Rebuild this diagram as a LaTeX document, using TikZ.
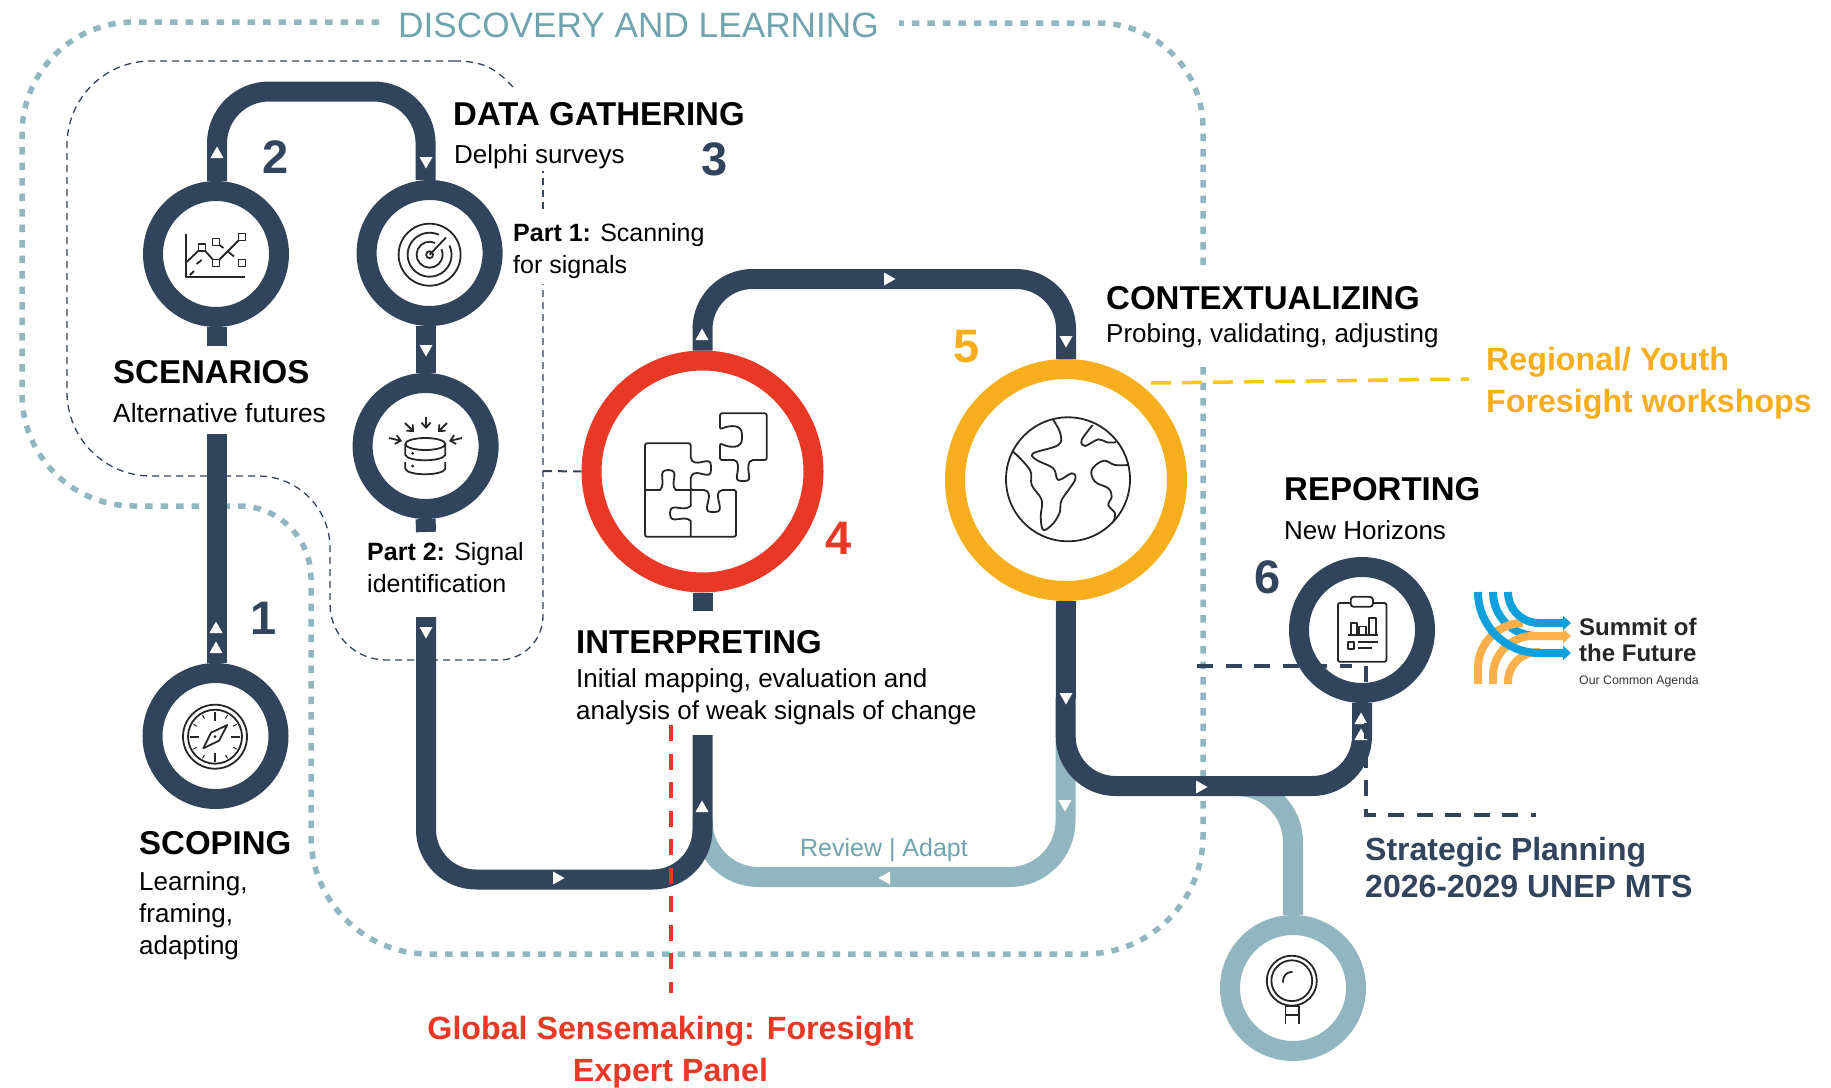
\documentclass[tikz,border=0pt]{standalone}
\usepackage{fontspec}
\usepackage{xcolor}
\setmainfont{Liberation Sans}
\usetikzlibrary{arrows.meta}
\definecolor{navy}{HTML}{32445C}
\definecolor{mist}{HTML}{92B6C0}
\definecolor{mistdark}{HTML}{6FA3AE}
\definecolor{flame}{HTML}{E93825}
\definecolor{amber}{HTML}{F7AE1D}
\definecolor{amberlight}{HTML}{FBB04C}
\definecolor{sky}{HTML}{0EA0DD}
\tikzset{
  ring/.style={circle, draw=navy, line width=20pt, minimum size=126pt, inner sep=0pt},
  bigring/.style={ring, minimum size=222pt},
  pipe/.style={draw=navy, line width=20pt},
  softpipe/.style={draw=mist, line width=20pt},
  looppath/.style={draw=mist, line width=5.5pt, dash pattern=on 7.5pt off 8pt},
  thinpath/.style={draw=navy, line width=1.3pt, dash pattern=on 7pt off 5pt},
  heavypath/.style={line width=4pt, dash pattern=on 16pt off 12.5pt},
  icon/.style={draw=black!85, line width=1.8pt, line join=round},
  heading/.style={font=\fontsize{33}{38}\selectfont\bfseries, anchor=base west, inner sep=0pt},
  note/.style={font=\fontsize{26}{32}\selectfont, anchor=base west, inner sep=0pt},
  notes/.style={font=\fontsize{26}{32}\selectfont, anchor=north west, inner sep=0pt, align=left},
  partnote/.style={notes, font=\fontsize{25}{32}\selectfont},
  stepnum/.style={font=\fontsize{47}{50}\selectfont\bfseries, anchor=base, inner sep=0pt},
  callout/.style={font=\fontsize{32.2}{42}\selectfont\bfseries, inner sep=0pt},
  pipetip/.pic={\fill[white] (-6.5,5) -- (6.5,5) -- (0,-6.5) -- cycle;},
  logoline/.style={line width=8pt, rounded corners=#1},
}
\begin{document}
\begin{tikzpicture}[x=1pt,y=-1pt]
  \useasboundingbox (0,0) rectangle (1831,1087);

  \coordinate (loopstart) at (379,22);
  \coordinate (loopend) at (1203,367);
  \coordinate (loopback) at (1203,265);
  \coordinate (looptop) at (899,23);
  \coordinate (thinbreak) at (543,284);
  \coordinate (thinmid) at (543,209);
  \coordinate (thinupper) at (543,171);
  \coordinate (thinend) at (513,87);
  \coordinate (thincurve) at (455,61);
  \coordinate (thinfork) at (543,471);

  \draw[looppath, rounded corners=112pt] (loopstart) -- (22,22) -- (22,506)
    [rounded corners=72pt] -- (311,506) [rounded corners=118pt] -- (311,954) -- (1203,954) -- (loopend);
  \draw[looppath, rounded corners=105pt] (loopback) -- (1203,23) -- (looptop);
  \draw[thinpath] (thinend) .. controls (497,70) and (485,61) .. (thincurve);
  \draw[thinpath, rounded corners=84pt] (thincurve) -- (67,61) -- (67,476)
    [rounded corners=72pt] -- (330,476) [rounded corners=56pt] -- (330,660) [rounded corners=44pt] -- (543,660) -- (thinbreak);
  \draw[thinpath] (thinmid) -- (thinupper);

  \node[ring] (scoping) at (215.5,736) {};
  \node[ring] (scenarios) at (216,254) {};
  \node[ring] (scanning) at (429.6,253) {};
  \node[ring] (signal) at (425.6,446) {};
  \node[bigring, draw=flame] (interpreting) at (702.5,471.5) {};
  \node[bigring, draw=amber] (context) at (1066,480) {};
  \node[ring] (report) at (1362,630) {};
  \node[ring, draw=mist] (lens) at (1293,988) {};

  \coordinate (scopingend) at (217,434);
  \coordinate (scenariosend) at (217,346);
  \coordinate (topbend) at (217,91.5);
  \coordinate (signalend) at (426,532);
  \coordinate (signalstart) at (426,617);
  \coordinate (valley) at (702.5,879.5);
  \coordinate (interpend) at (702.5,735);
  \coordinate (interpstub) at (702.5,611);
  \coordinate (arch) at (702,279);
  \coordinate (lowbend) at (1065.5,786);
  \coordinate (reportbend) at (1362,786);
  \coordinate (softstart) at (1065.5,740);
  \coordinate (softvalley) at (702.5,877);
  \coordinate (softend) at (702.5,820);
  \coordinate (branchstart) at (1236,786);

  \draw[softpipe, rounded corners=56pt] (softstart) |- (softvalley) -- (softend);
  \draw[softpipe, rounded corners=56pt] (branchstart) -| (lens.north);

  \draw[pipe] (scoping.north -| scopingend) -- (scopingend);
  \draw[pipe] (scenarios.south -| scenariosend) -- (scenariosend);
  \draw[pipe, rounded corners=52pt] (scenarios.north -| topbend) -- (topbend) -- (signal |- topbend) -- (signal |- scanning.north);
  \draw[pipe] (signal |- scanning.south) -- (signal.north);
  \draw[pipe] (signal.south) -- (signalend);
  \draw[pipe, rounded corners=50pt] (signalstart) |- (valley) -- (interpend);
  \draw[pipe] (interpreting.south) -- (interpstub);
  \draw[pipe, rounded corners=50pt] (interpreting.north) |- (arch -| context) -- (context.north);
  \draw[pipe, rounded corners=50pt] (context.south) -- (lowbend) -- (reportbend) -- (report.south);

  \foreach \x/\y/\a in {217/153/0, 426/162/180, 426/350/180, 426/632/180, 216/628/0, 216/648/0,
      558/878/-90, 702/807/0, 702/335/0, 889/279/-90, 1066/341/180, 1066/698/180,
      1065/805/180, 885/878/90, 1201/787/-90, 1361/719/0, 1361/735/0}
    \pic[rotate=\a] at (\x,\y) {pipetip};

  \coordinate (dashleft) at (1197,666);
  \coordinate (dashfork) at (1352,666);
  \coordinate (dashdown) at (1366,666);
  \coordinate (dashright) at (1536,815);
  \draw[heavypath, navy] (dashleft) -- (dashfork);
  \draw[heavypath, navy] (dashdown) |- (dashright);
  \draw[navy, line width=2pt, dash pattern=on 9pt off 6pt] (thinfork) -- (interpreting.west);
  \coordinate (yellowstart) at (1151,383);
  \coordinate (yellowend) at (1469,379);
  \draw[heavypath, draw=amber!70!yellow, line width=3.5pt, dash pattern=on 20pt off 11pt] (yellowstart) -- (yellowend);
  \coordinate (redstart) at (670.5,725);
  \coordinate (redend) at (670.5,993);
  \draw[heavypath, flame] (redstart) -- (redend);

  % icons
  \draw[icon] (186,234) -- (186,277) -- (245,277);
  \draw[icon] (186,262.5) -- (202,247.5) -- (216,263) -- (242,237);
  \foreach \x/\y in {202/247.5, 216/242, 242/237, 216/263, 242/263}
    \draw[icon, fill=white] (\x-3.5,\y-3.5) rectangle (\x+3.5,\y+3.5);
  \draw[icon] (196.5,264) -- (201.7,260) (190,275) -- (194,271) (219.5,245) -- (223.5,248) (228.5,252) -- (234,256.5);

  \draw[icon] (429.6,254.7) circle[radius=31];
  \draw[icon] ([shift={(-65:22)}]429.6,254.7) arc[start angle=-65, end angle=-385, radius=22];
  \draw[icon] ([shift={(-65:13)}]429.6,254.7) arc[start angle=-65, end angle=-385, radius=13];
  \draw[icon] (429.6,254.7) circle[radius=3.5] -- (446,237.5);

  \draw[icon] (425.3,444) ellipse[x radius=20, y radius=6];
  \draw[icon] (405.3,444) -- (405.3,455) .. controls (408,462) and (442,462) .. (445.3,455) -- (445.3,444);
  \draw[icon] (405.3,462) -- (405.3,469) .. controls (408,476) and (442,476) .. (445.3,469) -- (445.3,462);
  \fill[black!85] (412.7,453.3) circle[radius=1.6] (412.7,466) circle[radius=1.6];
  \foreach \x/\y/\u/\v in {426/417/426/429, 405/423/414/432, 447/423/438/432, 389/438/402/441, 462/438/449/441}
    \draw[icon, -{Straight Barb[length=5pt,width=9pt]}] (\x,\y) -- (\u,\v);

  \draw[icon, rounded corners=2pt] (720,413.3) -- (766.7,413.3) -- (766.7,460) -- (750.7,460)
    .. controls (745,470) and (754,481) .. (743,481) .. controls (732,481) and (741,470) .. (736,460)
    -- (720,460) -- (720,443.3) .. controls (730,448) and (742,449) .. (742,436.5)
    .. controls (742,424) and (730,425) .. (720,429.3) -- cycle;
  \draw[icon, rounded corners=2pt] (645,443.3) -- (690.7,443.3) -- (690.7,459.3)
    .. controls (698,467) and (711,455) .. (711,468) .. controls (711,481) and (698,469) .. (690.7,476)
    -- (690.7,490) -- (706,490) .. controls (713,497) and (701,512) .. (713.3,512)
    .. controls (726,512) and (714,497) .. (720.7,490) -- (736,490) -- (736,536.7) -- (645,536.7) -- cycle;
  \draw[icon] (645,490) -- (660,490) .. controls (667,483) and (656,470) .. (668.3,470)
    .. controls (681,470) and (669,483) .. (675.7,490) -- (690.7,490) -- (690.7,506)
    .. controls (683,513) and (670,501) .. (670,513.3) .. controls (670,526) and (683,514) .. (690.7,520.7) -- (690.7,536.7);

  \draw[icon] (1068,479.3) circle[radius=62];
  \draw[icon] plot[smooth, tension=.6] coordinates {(1053.3,420) (1060.3,433.3) (1058.3,445) (1033.3,453.3) (1036.7,460)
    (1053.3,468.3) (1058.3,480) (1071.7,473.3) (1075,480) (1061.7,500) (1060,511.7) (1053.3,523.3)
    (1043.3,530) (1040.7,516.7) (1041.7,500) (1031.7,485) (1030,470) (1013.3,451.7)};
  \draw[icon] plot[smooth, tension=.6] coordinates {(1092.7,425) (1081.7,440) (1085,446) (1098.3,439.3) (1106.7,442.3) (1116,442.3)};
  \draw[icon] plot[smooth, tension=.6] coordinates {(1128.3,465) (1115,465) (1103.3,460.7) (1091.7,470) (1095,481.7)
    (1108.3,488.3) (1111.7,496.7) (1108.3,505) (1115,513.3) (1113.3,521.7)};

  \draw[icon, rounded corners=2pt] (1350.7,603) -- (1337.9,603) -- (1337.9,661.8) -- (1386.4,661.8) -- (1386.4,603) -- (1372.9,603);
  \draw[icon, rounded corners=3pt] (1350.7,596.8) rectangle (1372.9,606.8);
  \draw[icon] (1347.9,635) -- (1378.2,635)
    (1350.7,635) -- (1350.7,622.9) -- (1356.8,622.9) -- (1356.8,635)
    (1359.3,635) -- (1359.3,626.4) -- (1365.7,626.4) -- (1365.7,635)
    (1368.6,635) -- (1368.6,618.2) -- (1375.7,618.2) -- (1375.7,635);
  \draw[icon] (1347.9,642.1) rectangle (1354,648.6) (1357.5,642) -- (1378.2,642) (1357.5,647.9) -- (1371.8,647.9);

  \draw[icon] (1291.8,980.7) circle[radius=25] circle[radius=20.4];
  \draw[icon] (1282.9,982.5) .. controls (1282.9,976) and (1286,972) .. (1292.5,971.8);
  \draw[icon] (1285.4,1024.3) -- (1285.4,1005.7) -- (1299,1005.7) -- (1299,1024.3) (1285.4,1014.6) -- (1299,1014.6);

  \draw[icon] (215,736.7) circle[radius=32] circle[radius=27];
  \foreach \a in {0,90,180,270}
    \draw[icon] ([shift={(\a:25)}]215,736.7) -- ([shift={(\a:16)}]215,736.7);
  \foreach \a in {30,60,120,150,210,240,300,330}
    \draw[icon, line width=1pt] ([shift={(\a:25)}]215,736.7) -- ([shift={(\a:21)}]215,736.7);
  \draw[icon] (227.3,725) -- (211,732.7) -- (203.3,748.3) -- (219,740.7) -- cycle;
  \fill[black!85] (215,736.7) circle[radius=1.5];

  % logo
  \draw[logoline=44pt, sky] (1493,592) |- (1540,636);
  \draw[logoline=45pt, amberlight] (1478,684) |- (1520,623);
  \draw[logoline=30pt, amberlight] (1508,684) |- (1540,652);
  \draw[logoline=40pt, amberlight, -{Triangle[length=8pt,width=14pt]}] (1493,684) |- (1571,636);
  \draw[logoline=31pt, sky, -{Triangle[length=8pt,width=14pt]}] (1508,592) |- (1571,623);
  \draw[logoline=61pt, sky, -{Triangle[length=8pt,width=14pt]}] (1478,592) |- (1571,653);
  \node[font=\fontsize{24}{26}\selectfont\bfseries, anchor=base west, inner sep=0pt, text=black!85] (summit) at (1579,635) {Summit of};
  \node[font=\fontsize{24}{26}\selectfont\bfseries, anchor=base west, inner sep=0pt, text=black!85] (future) at (1579,661) {the Future};
  \node[font=\fontsize{12.3}{15}\selectfont, anchor=base west, inner sep=0pt, text=black!80] (agenda) at (1579,684) {Our Common Agenda};

  % labels
  \node[font=\fontsize{35.2}{38}\selectfont, anchor=base west, inner sep=0pt, text=mistdark] (discovery) at (398,37) {DISCOVERY AND LEARNING};
  \node[heading] (gathering) at (453,125) {DATA GATHERING};
  \node[note] (delphi) at (454,163) {Delphi surveys};
  \node[partnote] (partone) at (513,223.5) {\textbf{Part 1:} Scanning\\for signals};
  \node[heading] (scenlabel) at (113,383) {SCENARIOS};
  \node[note, font=\fontsize{26.4}{32}\selectfont] (altfutures) at (113,422) {Alternative futures};
  \node[partnote] (parttwo) at (367,542.5) {\textbf{Part 2:} Signal\\identification};
  \node[heading] (interplabel) at (576,653) {INTERPRETING};
  \node[notes] (interptext) at (576,668) {Initial mapping, evaluation and\\analysis of weak signals of change};
  \node[heading] (contextlabel) at (1106,309) {CONTEXTUALIZING};
  \node[note] (probing) at (1106,342) {Probing, validating, adjusting};
  \node[callout, text=amber, anchor=north west, align=left] (regional) at (1486,347) {Regional/ Youth\\Foresight workshops};
  \node[heading] (reportlabel) at (1284,500) {REPORTING};
  \node[note] (horizons) at (1284,539) {New Horizons};
  \node[heading] (scopelabel) at (139,854) {SCOPING};
  \node[notes] (learning) at (139,871.5) {Learning,\\framing,\\adapting};
  \node[callout, text=navy, anchor=north west, align=left, font=\fontsize{32}{37}\selectfont\bfseries] (planning) at (1365,837) {Strategic Planning\\2026-2029 UNEP MTS};
  \node[note, anchor=base, text=mistdark, font=\fontsize{25}{32}\selectfont] (review) at (884,856) {Review | Adapt};
  \node[callout, text=flame, anchor=north, align=center] (sensemaking) at (670.5,1016) {Global Sensemaking: Foresight\\Expert Panel};

  \node[stepnum, text=navy] (numone) at (264,634.5) {1};
  \node[stepnum, text=navy] (numtwo) at (276,173.5) {2};
  \node[stepnum, text=navy] (numthree) at (715,175.5) {3};
  \node[stepnum, text=flame] (numfour) at (839,554.5) {4};
  \node[stepnum, text=amber] (numfive) at (967,362.5) {5};
  \node[stepnum, text=navy] (numsix) at (1268,593.5) {6};
\end{tikzpicture}
\end{document}
